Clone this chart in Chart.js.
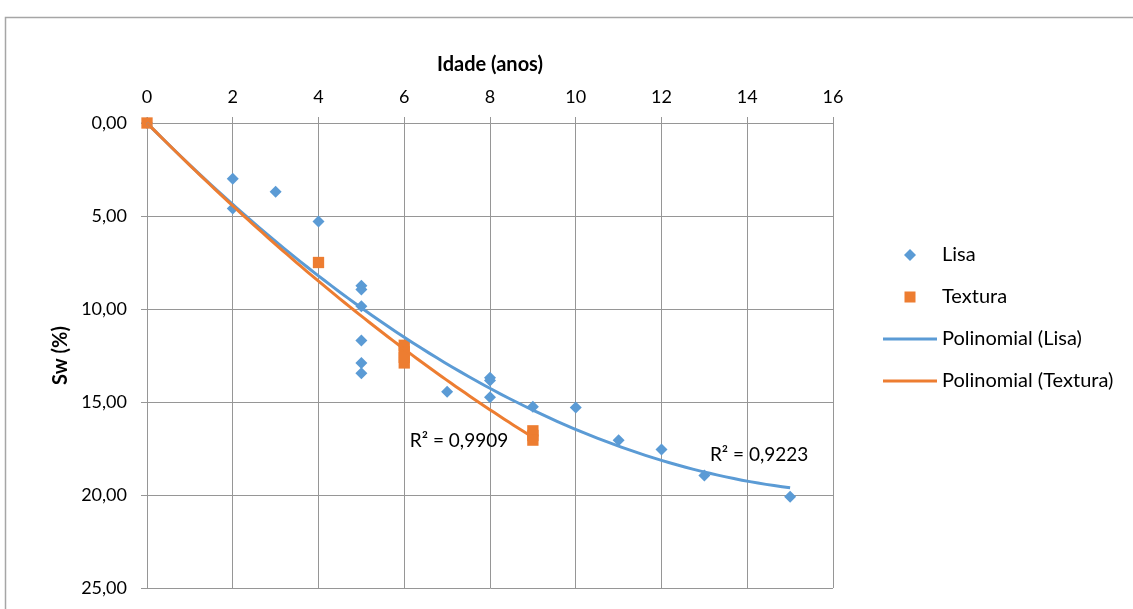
<!DOCTYPE html>
<html><head><meta charset="utf-8">
<script src="https://cdn.jsdelivr.net/npm/chart.js@4/dist/chart.umd.min.js"></script>
<style>html,body{margin:0;padding:0;background:#fff;}#wrap{position:relative;width:1133px;height:609px;}</style>
</head><body><div id="wrap"><canvas id="c" width="1133" height="609"></canvas></div>
<script>
// ---- data ----
const lisaX = [0, 2, 2, 3, 4, 5, 5, 5, 5, 5, 5, 7, 8, 8, 8, 9, 10, 11, 12, 13, 15];
const lisaY = [0, 3.0, 4.6, 3.7, 5.3, 8.75, 8.95, 9.85, 11.7, 12.9, 13.45, 14.45, 13.7, 13.85, 14.75, 15.25, 15.3, 17.05, 17.55, 18.95, 20.1];
const texturaX = [0, 4, 6, 6, 6, 6, 9, 9, 9];
const texturaY = [0, 7.5, 11.95, 12.3, 12.6, 12.9, 16.55, 16.8, 17.05];
const xTicks = [0, 2, 4, 6, 8, 10, 12, 14, 16];
const yTicks = [0, 5, 10, 15, 20, 25];
const seriesNames = ['Lisa', 'Textura', 'Polinomial (Lisa)', 'Polinomial (Textura)'];
const xTitle = 'Idade (anos)';
const yTitle = 'Sw (%)';
const r2Texts = ['R² = 0,9909', 'R² = 0,9223'];
const r2Anchors = [[6.13, 17.1], [13.13, 17.85]]; // data-space anchors of the R² notes (Textura, Lisa)

const BLUE = '#5B9BD5', ORANGE = '#ED7D31', GRID = '#969696';
const FONT = 'Lato';

// least-squares quadratic through the origin (Excel "Polinomial" order 2 trendline, intercept = 0)
function polyfit2(xs, ys) {
  let s2 = 0, s3 = 0, s4 = 0, t1 = 0, t2 = 0;
  for (let i = 0; i < xs.length; i++) {
    const x = xs[i], y = ys[i];
    s2 += x * x; s3 += x * x * x; s4 += x * x * x * x;
    t1 += x * y; t2 += x * x * y;
  }
  const det = s2 * s4 - s3 * s3;
  const b = (t1 * s4 - s3 * t2) / det;
  const a = (s2 * t2 - s3 * t1) / det;
  return [0, b, a];
}
function trend(xs, ys) {
  const c = polyfit2(xs, ys);
  const lo = Math.min(...xs), hi = Math.max(...xs), pts = [];
  const n = 80;
  for (let i = 0; i <= n; i++) { const x = lo + (hi - lo) * i / n; pts.push({x, y: c[0] + c[1]*x + c[2]*x*x}); }
  return pts;
}
const zip = (xs, ys) => xs.map((x, i) => ({x, y: ys[i]}));

const frame = {
  id: 'frame',
  beforeDraw(chart) {
    const ctx = chart.ctx;
    ctx.save();
    ctx.fillStyle = '#fff'; ctx.fillRect(0, 0, chart.width, chart.height);
    ctx.strokeStyle = '#a6a6a6'; ctx.lineWidth = 1.5;
    ctx.strokeRect(5.5, 17.5, chart.width + 20, chart.height + 20);
    ctx.restore();
  },
  afterDraw(chart) {
    const ctx = chart.ctx, xs = chart.scales.x, ys = chart.scales.y;
    ctx.save();
    ctx.font = '19px ' + FONT; ctx.fillStyle = '#000'; ctx.textBaseline = 'middle'; ctx.textAlign = 'left';
    r2Texts.forEach((t, i) => ctx.fillText(t, xs.getPixelForValue(r2Anchors[i][0]), ys.getPixelForValue(r2Anchors[i][1])));
    // legend
    const lx = 910, tx = 942, rows = [255, 297, 339, 381];
    ctx.fillStyle = BLUE;
    ctx.beginPath(); ctx.moveTo(lx, rows[0]-6); ctx.lineTo(lx+6, rows[0]); ctx.lineTo(lx, rows[0]+6); ctx.lineTo(lx-6, rows[0]); ctx.closePath(); ctx.fill();
    ctx.fillStyle = ORANGE; ctx.fillRect(lx-5.5, rows[1]-5.5, 11, 11);
    ctx.lineWidth = 3;
    ctx.strokeStyle = BLUE; ctx.beginPath(); ctx.moveTo(883, rows[2]); ctx.lineTo(937, rows[2]); ctx.stroke();
    ctx.strokeStyle = ORANGE; ctx.beginPath(); ctx.moveTo(883, rows[3]); ctx.lineTo(937, rows[3]); ctx.stroke();
    ctx.font = '20px ' + FONT; ctx.fillStyle = '#000';
    seriesNames.forEach((s, i) => ctx.fillText(s, tx, rows[i]));
    ctx.restore();
  }
};

new Chart(document.getElementById('c'), {
  type: 'scatter',
  data: {
    datasets: [
      { label: seriesNames[0], data: zip(lisaX, lisaY), pointStyle: 'rectRot', pointRadius: 6, backgroundColor: BLUE, borderWidth: 0, order: 3, clip: false },
      { label: seriesNames[1], data: zip(texturaX, texturaY), pointStyle: 'rect', pointRadius: 8, backgroundColor: ORANGE, borderWidth: 0, order: 2, clip: false },
      { label: seriesNames[2], data: trend(lisaX, lisaY), showLine: true, pointRadius: 0, borderColor: BLUE, borderWidth: 3, fill: false, order: 1, clip: false },
      { label: seriesNames[3], data: trend(texturaX, texturaY), showLine: true, pointRadius: 0, borderColor: ORANGE, borderWidth: 3, fill: false, order: 0, clip: false }
    ]
  },
  options: {
    responsive: false, animation: false, devicePixelRatio: 1, events: [],
    layout: { padding: { left: 0, right: 300, top: 0, bottom: 21 } },
    plugins: { legend: { display: false }, tooltip: { enabled: false } },
    scales: {
      x: {
        type: 'linear', position: 'top', min: 0, max: 16,
        afterBuildTicks: s => { s.ticks = xTicks.map(v => ({value: v})); },
        ticks: { font: { family: FONT, size: 18 }, color: '#000', padding: 9 },
        grid: { color: GRID, lineWidth: 1, tickLength: 6, drawTicks: true },
        border: { color: GRID },
        title: { display: true, text: xTitle, font: { family: FONT, size: 20, weight: 'bold' }, color: '#000', padding: { top: 53, bottom: 0 } },
        afterFit: s => { s.height = 123; s.paddingLeft = 0; s.paddingRight = 0; }
      },
      y: {
        type: 'linear', position: 'left', reverse: true, min: 0, max: 25,
        afterBuildTicks: s => { s.ticks = yTicks.map(v => ({value: v})); },
        ticks: { font: { family: FONT, size: 18 }, color: '#000', padding: 14,
                 callback: v => Number(v).toFixed(2).replace('.', ',') },
        grid: { color: GRID, lineWidth: 1, tickLength: 6, drawTicks: true },
        border: { color: GRID },
        title: { display: true, text: yTitle, font: { family: FONT, size: 20, weight: 'bold' }, color: '#000', padding: { top: 49, bottom: 0 } },
        afterFit: s => { s.width = 147; s.paddingTop = 0; s.paddingBottom = 0; }
      }
    }
  },
  plugins: [frame]
});
</script></body></html>
